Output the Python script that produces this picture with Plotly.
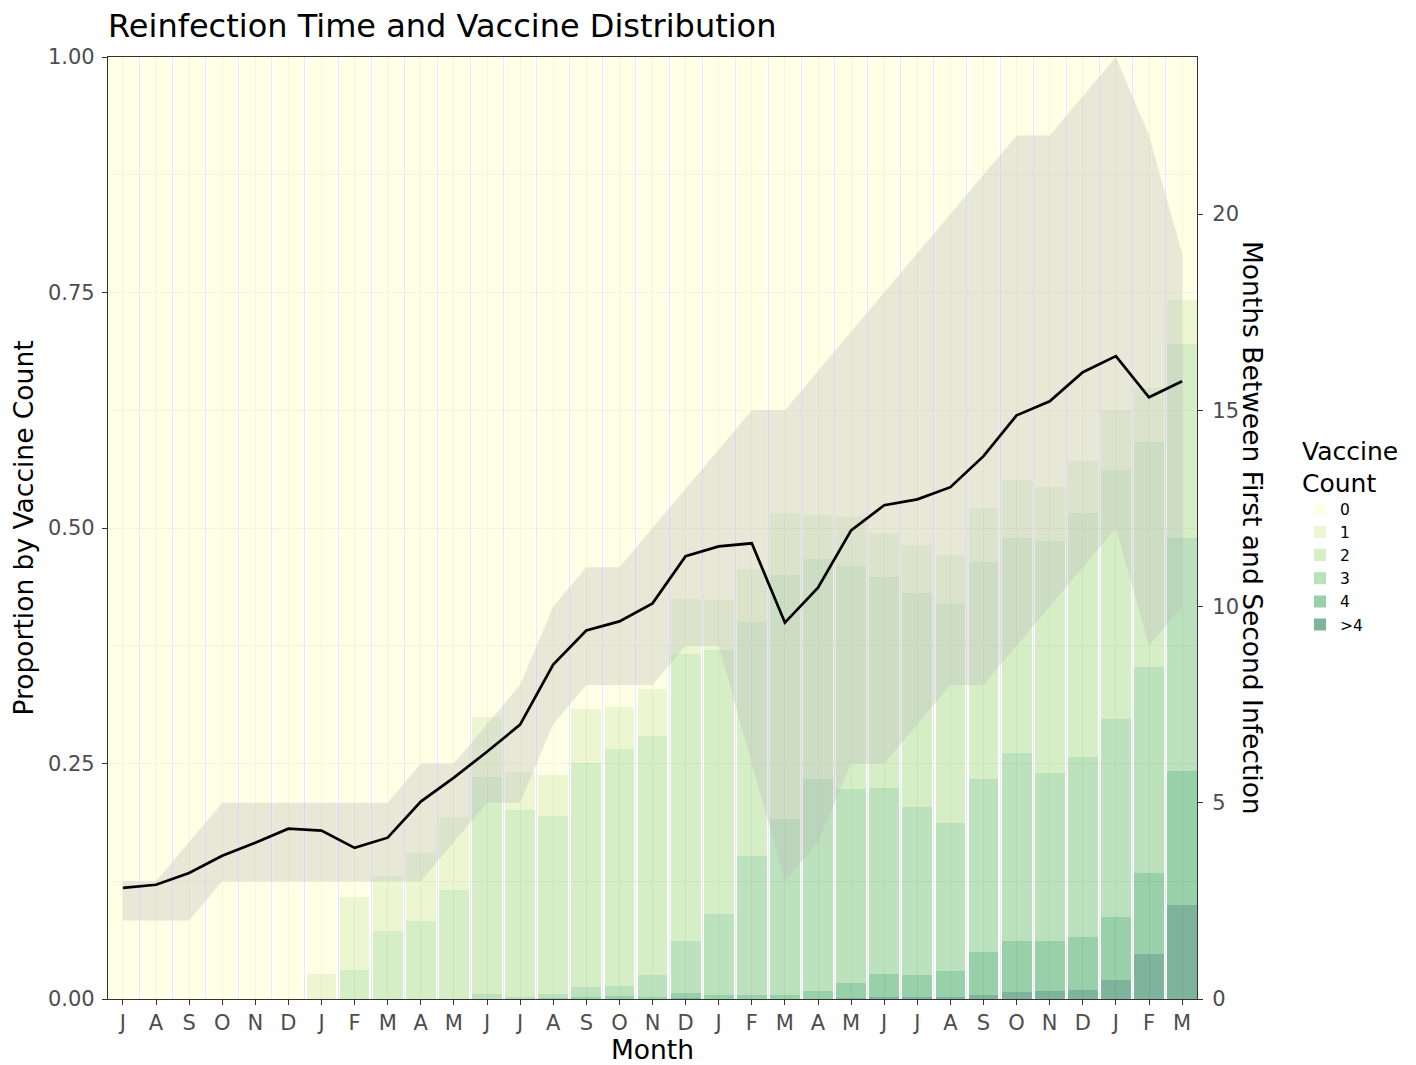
import plotly.graph_objects as go

# ---------------- data ----------------
months = ["J", "A", "S", "O", "N", "D", "J", "F", "M", "A", "M", "J", "J", "A", "S", "O",
          "N", "D", "J", "F", "M", "A", "M", "J", "J", "A", "S", "O", "N", "D", "J", "F", "M"]

vaccine_levels = ["0", "1", "2", "3", "4", ">4"]

# proportion of reinfections by vaccine count, per month
p_0 = [1, 1, 1, 1, 1, 1, 0.973, 0.892, 0.869, 0.845, 0.807, 0.701, 0.759, 0.762, 0.692, 0.690,
       0.671, 0.575, 0.576, 0.544, 0.484, 0.486, 0.488, 0.505, 0.518, 0.529, 0.479, 0.449, 0.457,
       0.429, 0.375, 0.351, 0.258]
p_1 = [0, 0, 0, 0, 0, 0, 0.027, 0.077, 0.059, 0.072, 0.077, 0.063, 0.040, 0.044, 0.057, 0.045,
       0.050, 0.059, 0.054, 0.056, 0.066, 0.047, 0.052, 0.047, 0.051, 0.052, 0.057, 0.062, 0.057,
       0.055, 0.063, 0.058, 0.047]
p_2 = [0, 0, 0, 0, 0, 0, 0, 0.031, 0.072, 0.083, 0.116, 0.231, 0.199, 0.189, 0.238, 0.251,
       0.253, 0.304, 0.280, 0.248, 0.259, 0.233, 0.237, 0.224, 0.227, 0.232, 0.230, 0.228, 0.246,
       0.259, 0.265, 0.239, 0.206]
p_3 = [0, 0, 0, 0, 0, 0, 0, 0, 0, 0, 0, 0.005, 0.002, 0.004, 0.011, 0.011,
       0.024, 0.056, 0.086, 0.148, 0.187, 0.225, 0.206, 0.197, 0.179, 0.157, 0.184, 0.199, 0.178,
       0.191, 0.210, 0.218, 0.247]
p_4 = [0, 0, 0, 0, 0, 0, 0, 0, 0, 0, 0, 0, 0, 0.001, 0.002, 0.003,
       0.002, 0.005, 0.004, 0.004, 0.004, 0.009, 0.016, 0.025, 0.023, 0.028, 0.046, 0.055, 0.053,
       0.056, 0.067, 0.086, 0.142]
p_gt4 = [0, 0, 0, 0, 0, 0, 0, 0, 0, 0, 0, 0, 0, 0, 0, 0,
         0, 0.001, 0, 0, 0, 0, 0.001, 0.002, 0.002, 0.002, 0.004, 0.007, 0.009,
         0.010, 0.020, 0.048, 0.100]

# months between first and second infection (central value and band)
reinf_months = [2.83, 2.91, 3.21, 3.65, 3.98, 4.34, 4.29, 3.85, 4.11, 5.03, 5.64, 6.30, 6.99,
                8.52, 9.39, 9.62, 10.08, 11.28, 11.53, 11.61, 9.59, 10.48, 11.94, 12.58, 12.73,
                13.04, 13.83, 14.87, 15.23, 15.97, 16.38, 15.33, 15.74]
reinf_low = [2, 2, 2, 3, 3, 3, 3, 3, 3, 3, 4, 5, 5, 7, 8, 8, 8, 9, 9, 6, 3, 4, 6, 6, 7, 8, 8,
             9, 10, 11, 12, 9, 10]
reinf_high = [3, 3, 4, 5, 5, 5, 5, 5, 5, 6, 6, 7, 8, 10, 11, 11, 12, 13, 14, 15, 15, 16, 17,
              18, 19, 20, 21, 22, 22, 23, 24, 22, 19]

left_ticks = [0, 0.25, 0.5, 0.75, 1.0]
left_ticktext = ["0.00", "0.25", "0.50", "0.75", "1.00"]
right_ticks = [0, 5, 10, 15, 20]

# ---------------- styling ----------------
FONT = "DejaVu Sans"
palette = {"0": "rgba(255,255,204,0.5)", "1": "rgba(217,240,163,0.5)",
           "2": "rgba(173,221,142,0.5)", "3": "rgba(120,198,121,0.5)",
           "4": "rgba(49,163,84,0.5)", ">4": "rgba(0,104,55,0.5)"}

x = list(range(len(months)))
series = {"0": p_0, "1": p_1, "2": p_2, "3": p_3, "4": p_4, ">4": p_gt4}

fig = go.Figure()

# stack from >4 at the bottom up to 0 at the top
for lvl in reversed(vaccine_levels):
    fig.add_trace(go.Bar(
        x=x, y=series[lvl], name=lvl, width=0.9,
        marker=dict(color=palette[lvl], line=dict(width=0)),
        legendrank=vaccine_levels.index(lvl) + 1,
        yaxis="y",
    ))

# ribbon on secondary axis
fig.add_trace(go.Scatter(
    x=x, y=reinf_low, mode="lines", line=dict(width=0, color="rgba(0,0,0,0)"),
    showlegend=False, hoverinfo="skip", yaxis="y2"))
fig.add_trace(go.Scatter(
    x=x, y=reinf_high, mode="lines", line=dict(width=0, color="rgba(0,0,0,0)"),
    fill="tonexty", fillcolor="rgba(190,190,190,0.35)",
    showlegend=False, hoverinfo="skip", yaxis="y2"))
fig.add_trace(go.Scatter(
    x=x, y=reinf_months, mode="lines", line=dict(color="black", width=2.7),
    showlegend=False, yaxis="y2"))

minor_x = [i + 0.5 for i in range(-1, len(months))]

fig.update_layout(
    width=1416, height=1065,
    margin=dict(l=108, r=219, t=57, b=66),
    barmode="stack", bargap=0,
    paper_bgcolor="white", plot_bgcolor="white",
    font=dict(family=FONT, color="black"),
    title=dict(text="Reinfection Time and Vaccine Distribution",
               x=108 / 1416, xanchor="left", xref="container",
               y=1 - 26 / 1065, yanchor="middle", yref="container",
               font=dict(size=32, color="black", family=FONT)),
    xaxis=dict(
        range=[-0.45, len(months) - 0.55],
        tickmode="array", tickvals=x, ticktext=months,
        ticks="outside", ticklen=5, tickwidth=1.1, tickcolor="#333333",
        tickfont=dict(size=21, color="#4d4d4d", family=FONT),
        showgrid=True, gridcolor="#ebebeb", gridwidth=1.1,
        minor=dict(tickmode="array", tickvals=minor_x, showgrid=True,
                   gridcolor="#e8e8f0", gridwidth=0.6, ticks=""),
        showline=True, linecolor="#333333", linewidth=1.2, mirror=True,
        zeroline=False, automargin=False,
        title=dict(text="Month", font=dict(size=26.5, color="black", family=FONT), standoff=10),
    ),
    yaxis=dict(
        range=[0, 1],
        tickmode="array", tickvals=left_ticks, ticktext=left_ticktext,
        ticks="outside", ticklen=5, tickwidth=1.1, tickcolor="#333333",
        tickfont=dict(size=21, color="#4d4d4d", family=FONT),
        ticklabelstandoff=3,
        showgrid=True, gridcolor="#ebebeb", gridwidth=1.1,
        minor=dict(tickmode="array", tickvals=[0.125, 0.375, 0.625, 0.875],
                   showgrid=True, gridcolor="#ebebeb", gridwidth=0.6, ticks=""),
        showline=True, linecolor="#333333", linewidth=1.2, mirror=True,
        zeroline=False, automargin=False,
        title=dict(text="Proportion by Vaccine Count",
                   font=dict(size=26.5, color="black", family=FONT), standoff=6),
    ),
    yaxis2=dict(
        range=[0, 24], overlaying="y", side="right",
        tickmode="array", tickvals=right_ticks,
        ticks="outside", ticklen=5, tickwidth=1.1, tickcolor="#333333",
        tickfont=dict(size=21, color="#4d4d4d", family=FONT),
        ticklabelstandoff=5,
        showgrid=False, zeroline=False, automargin=False,
        showline=True, linecolor="#333333", linewidth=1.2,
    ),
    legend=dict(
        x=(1300 - 108) / 1089, xanchor="left", y=0.607, yanchor="top",
        title=dict(text="Vaccine<br>Count", font=dict(size=25, color="black", family=FONT)),
        font=dict(size=15.5, color="black", family=FONT),
        traceorder="normal", tracegroupgap=0, itemwidth=30,
        bgcolor="rgba(0,0,0,0)",
    ),
    annotations=[dict(
        text="Months Between First and Second Infection",
        xref="paper", yref="paper", x=(1253 - 108) / 1089, y=0.5,
        xanchor="center", yanchor="middle", textangle=90, showarrow=False,
        font=dict(size=26.5, color="black", family=FONT),
    )],
)

fig.write_html("out.html", config={"displayModeBar": False},
               post_script="document.body.style.margin='0';")
